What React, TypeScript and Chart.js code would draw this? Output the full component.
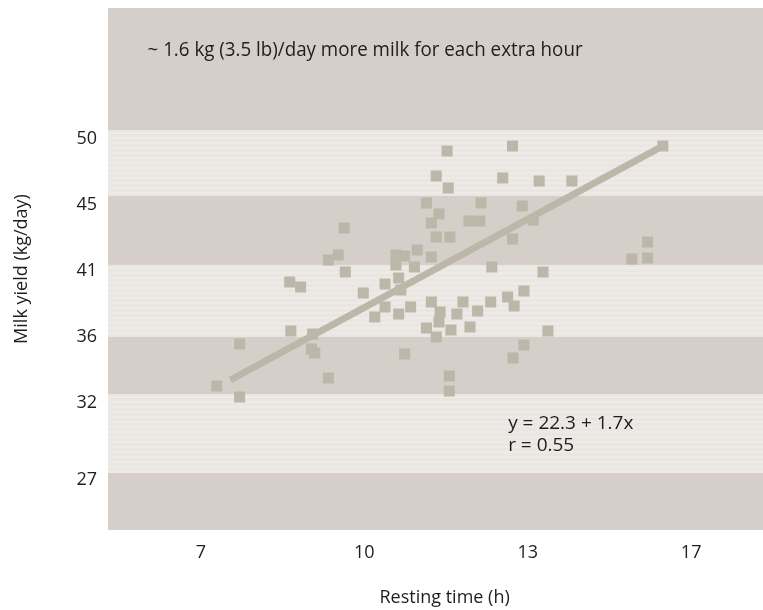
import React, { useEffect, useRef } from "react";
import { Chart, registerables } from "chart.js";

Chart.register(...registerables);

// Resting time (h) / milk yield (kg/day) observations
const restingHours = [
  7.29, 7.71, 7.71, 8.63, 8.83, 8.65, 9.05, 9.03, 9.09, 9.34,
  9.34, 9.52, 9.63, 9.65, 9.98, 10.19, 10.38, 10.38, 10.58, 10.74,
  10.58, 10.63, 10.67, 10.63, 10.85, 10.92, 10.97, 10.74, 11.14, 11.23,
  11.37, 11.32, 11.57, 11.23, 11.52, 11.32, 11.54, 11.23, 11.39, 11.37,
  11.14, 11.32, 11.59, 11.7, 11.81, 11.94, 12.08, 12.32, 11.56, 11.56,
  11.92, 12.12, 12.14, 12.34, 12.54, 12.72, 12.9, 13.1, 12.72, 12.63,
  12.75, 12.93, 13.28, 13.21, 13.81, 12.93, 12.73, 13.37, 15.2, 14.91,
  15.2, 15.48,
];
const milkYield = [
  33.16, 36.02, 32.41, 40.25, 39.91, 36.91, 36.7, 35.68, 35.41, 33.7,
  41.75, 42.09, 43.93, 40.93, 39.5, 37.86, 40.11, 38.55, 42.09, 42.02,
  41.41, 40.52, 39.7, 38.07, 38.55, 41.27, 42.43, 35.34, 45.64, 44.27,
  44.89, 43.32, 43.32, 41.95, 49.18, 47.48, 46.66, 38.89, 38.2, 37.52,
  37.11, 36.5, 36.98, 38.07, 38.89, 37.18, 38.27, 38.89, 33.84, 32.82,
  44.41, 44.41, 45.64, 41.27, 47.34, 49.52, 45.43, 44.48, 43.18, 39.23,
  38.61, 39.64, 40.93, 47.14, 47.14, 35.95, 35.07, 36.91, 42.98, 41.82,
  41.89, 49.52,
];

// Regression line end points (x, y)
const trendX = [7.54, 15.48];
const trendY = [33.57, 49.52];

// Axis ticks as printed on the figure
const xTickValues = [7, 10, 13, 16];
const xTickLabels = ["7", "10", "13", "17"];
const yTickValues = [50, 45.5, 41, 36.5, 32, 26.75];
const yTickLabels = ["50", "45", "41", "36", "32", "27"];

// Background band edges (in y units), top to bottom
const bandEdges = [58.93, 50.61, 46.11, 41.41, 36.5, 32.61, 27.23, 23.34];

const headline = "~ 1.6 kg (3.5 lb)/day more milk for each extra hour";
const equationLines = ["y = 22.3 + 1.7x", "r = 0.55"];

const DARK = "#d5cec9";
const LIGHT = "#eae6e2";
const MARK = "#bcb7a9";
const TEXT = "#1e1e1e";
const FONT = "'Open Sans', 'DejaVu Sans', sans-serif";

export default function App() {
  const ref = useRef<HTMLCanvasElement | null>(null);

  useEffect(() => {
    const canvas = ref.current;
    if (!canvas) return;

    const bandsPlugin = {
      id: "bands",
      beforeDraw(chart: any) {
        const { ctx, chartArea, scales } = chart;
        const y = scales.y;
        ctx.save();
        for (let i = 0; i < bandEdges.length - 1; i++) {
          const top = y.getPixelForValue(bandEdges[i]);
          const bottom = y.getPixelForValue(bandEdges[i + 1]);
          const dark = i % 2 === 0;
          ctx.fillStyle = dark ? DARK : LIGHT;
          ctx.fillRect(chartArea.left, top, chartArea.right - chartArea.left, bottom - top);
          if (!dark) {
            ctx.fillStyle = "rgba(255,255,255,0.18)";
            for (let s = top + 2; s < bottom - 1; s += 5) {
              ctx.fillRect(chartArea.left, s, chartArea.right - chartArea.left, 2);
            }
          }
        }
        ctx.restore();
      },
    };

    const notesPlugin = {
      id: "notes",
      afterDatasetsDraw(chart: any) {
        const { ctx, scales } = chart;
        const x = scales.x;
        const y = scales.y;
        ctx.save();
        ctx.fillStyle = TEXT;
        ctx.textBaseline = "middle";
        ctx.textAlign = "left";
        // headline (condensed look)
        ctx.font = `20px ${FONT}`;
        const hx = x.getPixelForValue(6.02);
        const hy = y.getPixelForValue(56.07);
        const w = ctx.measureText(headline).width;
        const target = 435;
        ctx.save();
        ctx.translate(hx, hy);
        ctx.scale(target / w, 1);
        ctx.fillText(headline, 0, 0);
        ctx.restore();
        // equation
        ctx.font = `19px ${FONT}`;
        const ex = x.getPixelForValue(12.64);
        ctx.fillText(equationLines[0], ex, y.getPixelForValue(30.57));
        ctx.fillText(equationLines[1], ex, y.getPixelForValue(29.07));
        ctx.restore();
      },
    };

    const chart = new Chart(canvas, {
      type: "scatter",
      data: {
        datasets: [
          {
            type: "line",
            data: trendX.map((v, i) => ({ x: v, y: trendY[i] })),
            borderColor: MARK,
            borderWidth: 7,
            borderCapStyle: "butt",
            pointRadius: 0,
            fill: false,
            order: 2,
          } as any,
          {
            data: restingHours.map((v, i) => ({ x: v, y: milkYield[i] })),
            pointStyle: "rect",
            pointRadius: 7.8,
            pointHoverRadius: 7.8,
            backgroundColor: MARK,
            borderWidth: 0,
            order: 1,
          } as any,
        ],
      },
      options: {
        animation: false,
        responsive: false,
        devicePixelRatio: 1,
        layout: { padding: { top: 8, left: 0, right: 0, bottom: 0 } },
        plugins: { legend: { display: false }, tooltip: { enabled: false } },
        scales: {
          x: {
            type: "linear",
            min: 5.294,
            max: 17.653,
            grid: { display: false, drawTicks: false },
            border: { display: false },
            afterBuildTicks: (s: any) => {
              s.ticks = xTickValues.map((v) => ({ value: v }));
            },
            afterFit: (s: any) => {
              s.height = 80;
              s.paddingLeft = 0;
              s.paddingRight = 0;
            },
            ticks: {
              autoSkip: false,
              maxRotation: 0,
              padding: 12,
              color: TEXT,
              font: { family: FONT, size: 18 },
              callback: (_v: any, i: number) => xTickLabels[i],
            },
            title: {
              display: true,
              text: "Resting time (h)",
              color: TEXT,
              font: { family: FONT, size: 18 },
              padding: { top: 1, bottom: 1 },
            },
          },
          y: {
            type: "linear",
            min: 23.34,
            max: 58.93,
            grid: { display: false, drawTicks: false },
            border: { display: false },
            afterBuildTicks: (s: any) => {
              s.ticks = yTickValues.map((v) => ({ value: v }));
            },
            afterFit: (s: any) => {
              s.width = 108;
              s.paddingTop = 0;
              s.paddingBottom = 0;
            },
            ticks: {
              autoSkip: false,
              padding: 11,
              color: TEXT,
              font: { family: FONT, size: 18 },
              callback: (_v: any, i: number) => yTickLabels[i],
            },
            title: {
              display: true,
              text: "Milk yield (kg/day)",
              color: TEXT,
              font: { family: FONT, size: 18 },
              padding: { top: 11, bottom: 11 },
            },
          },
        },
      },
      plugins: [bandsPlugin, notesPlugin],
    } as any);

    return () => chart.destroy();
  }, []);

  return (
    <div
      style={{
        position: "absolute",
        left: 0,
        top: 0,
        width: 763,
        height: 610,
        overflow: "hidden",
        background: "#ffffff",
      }}
    >
      <canvas ref={ref} width={789} height={610} style={{ display: "block" }} />
    </div>
  );
}
